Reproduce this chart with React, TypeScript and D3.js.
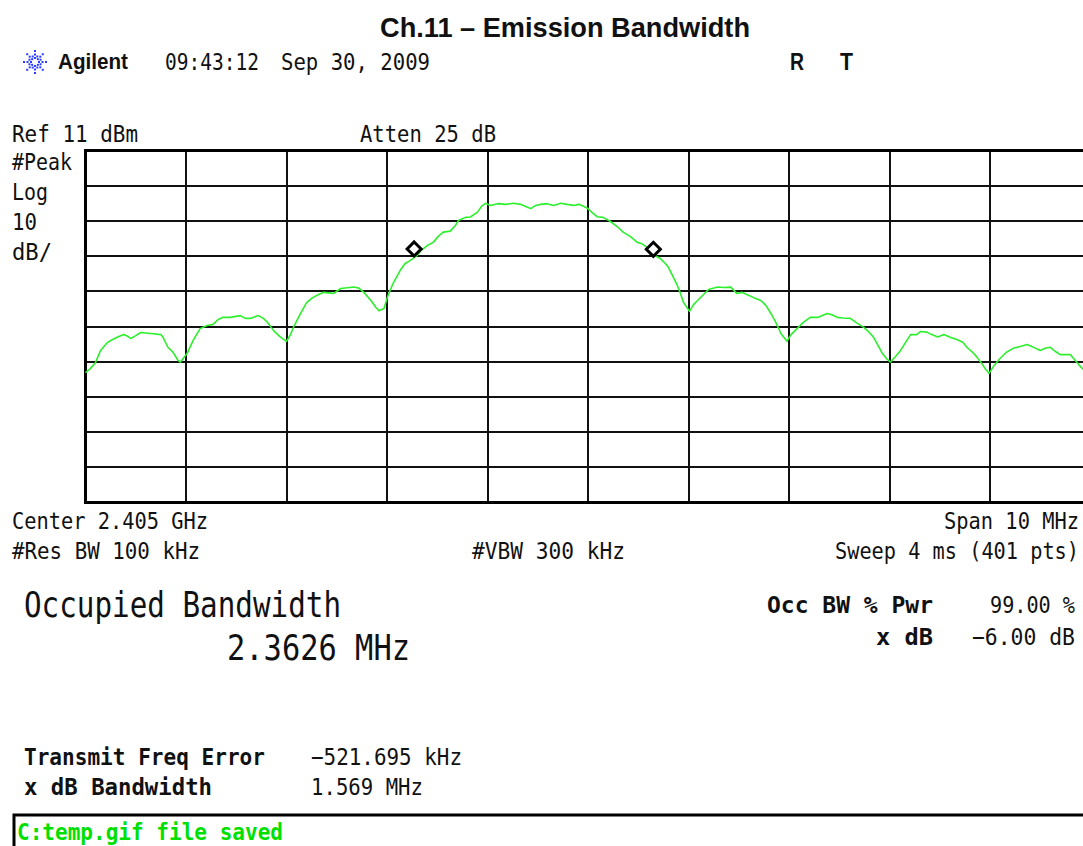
import * as d3 from "d3";
import React from "react";

// Trace: frequency (MHz) and level (dBm)
const freqMHz = [
  2400.0, 2400.05, 2400.1, 2400.15, 2400.22, 2400.27, 2400.32, 2400.38, 2400.42, 2400.45,
  2400.5, 2400.55, 2400.65, 2400.75, 2400.77, 2400.82, 2400.87, 2400.92, 2400.945, 2401.01,
  2401.07, 2401.14, 2401.21, 2401.27, 2401.32, 2401.37, 2401.44, 2401.54, 2401.59, 2401.64,
  2401.72, 2401.77, 2401.81, 2401.87, 2401.94, 2402.0, 2402.04, 2402.07, 2402.14, 2402.2,
  2402.26, 2402.32, 2402.37, 2402.47, 2402.54, 2402.67, 2402.72, 2402.77, 2402.84, 2402.89,
  2402.92, 2402.97, 2403.01, 2403.06, 2403.13, 2403.18, 2403.23, 2403.3, 2403.34, 2403.4,
  2403.46, 2403.51, 2403.56, 2403.63, 2403.68, 2403.71, 2403.78, 2403.83, 2403.9, 2403.94,
  2403.98, 2404.03, 2404.1, 2404.18, 2404.26, 2404.33, 2404.38, 2404.43, 2404.48, 2404.53,
  2404.59, 2404.66, 2404.73, 2404.79, 2404.86, 2404.91, 2404.96, 2405.0, 2405.04, 2405.09,
  2405.15, 2405.22, 2405.29, 2405.35, 2405.42, 2405.49, 2405.53, 2405.59, 2405.65, 2405.72,
  2405.77, 2405.8, 2405.84, 2405.89, 2405.92, 2405.95, 2406.01, 2406.05, 2406.09, 2406.14,
  2406.2, 2406.29, 2406.35, 2406.42, 2406.48, 2406.53, 2406.58, 2406.65, 2406.72, 2406.77,
  2406.82, 2406.87, 2406.92, 2406.98, 2407.02, 2407.08, 2407.14, 2407.21, 2407.29, 2407.38,
  2407.42, 2407.48, 2407.54, 2407.61, 2407.67, 2407.74, 2407.79, 2407.84, 2407.88, 2407.93,
  2407.97, 2408.01, 2408.06, 2408.11, 2408.16, 2408.21, 2408.27, 2408.31, 2408.37, 2408.42,
  2408.48, 2408.54, 2408.61, 2408.67, 2408.73, 2408.77, 2408.83, 2408.87, 2408.91, 2408.95,
  2408.99, 2409.04, 2409.1, 2409.16, 2409.23, 2409.3, 2409.37, 2409.44, 2409.5, 2409.55,
  2409.6, 2409.65, 2409.7, 2409.76, 2409.8, 2409.87, 2409.9, 2409.93, 2410.0,
];

const levelDbm = [
  -52.1, -50.9, -49.2, -45.8, -43.5, -42.7, -42.0, -41.3, -41.8, -42.4,
  -41.6, -40.7, -41.0, -41.3, -42.0, -44.9, -46.3, -48.6, -49.1, -46.7,
  -43.0, -39.6, -38.7, -38.4, -37.0, -36.4, -36.4, -35.9, -36.7, -36.7,
  -35.9, -36.7, -37.8, -40.1, -42.0, -43.2, -41.3, -39.2, -35.3, -32.2,
  -30.8, -29.9, -29.3, -29.6, -28.2, -27.8, -28.1, -29.3, -31.6, -33.6,
  -34.5, -33.9, -30.2, -26.8, -23.1, -21.1, -20.3, -18.8, -17.4, -16.0,
  -15.1, -13.4, -12.2, -11.9, -10.3, -8.9, -8.0, -7.9, -6.5, -4.9,
  -4.0, -4.6, -4.1, -4.3, -4.0, -4.3, -4.9, -5.5, -4.6, -4.3,
  -4.1, -4.6, -4.0, -4.3, -4.6, -4.3, -4.9, -5.5, -6.6, -7.8,
  -8.0, -9.1, -10.6, -12.2, -13.4, -15.1, -15.4, -16.5, -18.6, -19.7,
  -21.1, -22.2, -24.5, -27.4, -29.6, -32.1, -34.7, -32.8, -31.6, -30.2,
  -28.5, -27.8, -27.9, -27.8, -29.6, -29.3, -29.9, -30.8, -31.6, -33.0,
  -35.3, -37.9, -41.0, -43.2, -41.3, -39.6, -37.9, -36.4, -36.4, -35.3,
  -35.6, -36.4, -36.6, -36.7, -37.9, -39.2, -40.4, -42.0, -44.1, -46.7,
  -48.1, -49.1, -47.5, -45.8, -43.5, -41.3, -41.3, -40.4, -40.6, -41.3,
  -42.0, -41.3, -42.1, -42.7, -43.5, -44.9, -46.4, -47.7, -49.2, -50.9,
  -52.3, -50.1, -48.1, -46.4, -45.2, -44.7, -44.1, -45.0, -45.8, -45.2,
  -44.9, -46.1, -47.0, -47.0, -47.0, -49.4, -50.4, -51.2, -51.2,
];

// occupied bandwidth edge markers
const markerFreq = [2403.27, 2405.65];
const markerLevel = [-19.1, -19.2];

const refLevel = 11;
const dbPerDiv = 10;
const centerMHz = 2405;
const spanMHz = 10;

const mono = "'DejaVu Sans Mono', monospace";
const sans = "'Liberation Sans', Arial, sans-serif";

const Txt = ({ x, y, w, children, size = 23, bold = false, family = mono, fill = "#111", anchor = "start" }: any) => (
  <text
    x={x}
    y={y}
    fontSize={size}
    fontFamily={family}
    fontWeight={bold ? "bold" : "normal"}
    fill={fill}
    textAnchor={anchor}
    textLength={w}
    lengthAdjust="spacingAndGlyphs"
  >
    {children}
  </text>
);

const AgilentStar = ({ cx, cy }: { cx: number; cy: number }) => {
  const dots: [number, number][] = [];
  d3.range(8).forEach((i) => {
    const a = (i * Math.PI) / 4;
    [4, 7.5, 11].forEach((r) => dots.push([cx + r * Math.cos(a), cy + r * Math.sin(a)]));
  });
  d3.range(8).forEach((i) => {
    const a = (i * Math.PI) / 4 + Math.PI / 8;
    dots.push([cx + 6 * Math.cos(a), cy + 6 * Math.sin(a)]);
  });
  return (
    <g fill="#2a3cff">
      {dots.map((d, i) => (
        <rect key={i} x={d[0] - 1} y={d[1] - 1} width={2} height={2} />
      ))}
    </g>
  );
};

export default function App() {
  const left = 85.5;
  const top = 150.5;
  const divW = 100.5;
  const divH = 35.2;

  const x = d3
    .scaleLinear()
    .domain([centerMHz - spanMHz / 2, centerMHz + spanMHz / 2])
    .range([left, left + divW * 10]);
  const y = d3
    .scaleLinear()
    .domain([refLevel - dbPerDiv * 10, refLevel])
    .range([top + divH * 10, top]);

  const trace = freqMHz.map((f, i) => [f, levelDbm[i]] as [number, number]);
  const line = d3
    .line<[number, number]>()
    .x((d) => x(d[0]))
    .y((d) => y(d[1]));

  const divs = d3.range(11);

  return (
    <svg
      width={1083}
      height={846}
      style={{ position: "absolute", left: 0, top: 0, background: "#fff" }}
    >
      <rect width={1083} height={846} fill="#fff" />

      <Txt x={380} y={37} w={370} size={27} bold family={sans}>
        Ch.11 – Emission Bandwidth
      </Txt>

      <AgilentStar cx={35} cy={62} />
      <Txt x={58} y={69} w={70} size={22} bold family={sans}>Agilent</Txt>
      <Txt x={165} y={70} w={94} size={23}>09:43:12</Txt>
      <Txt x={281} y={70} w={149} size={23}>Sep 30, 2009</Txt>
      <Txt x={790} y={70} w={14} size={24} bold family={sans}>R</Txt>
      <Txt x={840} y={70} w={13} size={24} bold family={sans}>T</Txt>

      <Txt x={12} y={142} w={126}>Ref 11 dBm</Txt>
      <Txt x={360} y={142} w={136}>Atten 25 dB</Txt>
      <Txt x={12} y={170} w={60}>#Peak</Txt>
      <Txt x={12} y={200} w={36}>Log</Txt>
      <Txt x={12} y={230} w={25}>10</Txt>
      <Txt x={12} y={260} w={40}>dB/</Txt>

      {/* graticule */}
      <g stroke="#111" strokeWidth={2} shapeRendering="crispEdges">
        {divs.slice(1, 10).map((i) => (
          <line key={"v" + i} x1={x(centerMHz - spanMHz / 2 + i)} x2={x(centerMHz - spanMHz / 2 + i)} y1={y(refLevel)} y2={y(refLevel - 100)} />
        ))}
        {divs.slice(1, 10).map((i) => (
          <line key={"h" + i} x1={x(2400)} x2={x(2410)} y1={y(refLevel - dbPerDiv * i)} y2={y(refLevel - dbPerDiv * i)} />
        ))}
      </g>
      <rect
        x={x(2400)}
        y={y(refLevel)}
        width={x(2410) - x(2400)}
        height={y(refLevel - 100) - y(refLevel)}
        fill="none"
        stroke="#000"
        strokeWidth={3}
      />

      <path d={line(trace) || ""} fill="none" stroke="#2cf02c" strokeWidth={1.6} strokeLinejoin="round" />

      {markerFreq.map((f, i) => {
        const mx = x(f);
        const my = y(markerLevel[i]) - 7.5;
        return (
          <path
            key={i}
            d={`M${mx},${my - 7}L${mx + 7},${my}L${mx},${my + 7}L${mx - 7},${my}Z`}
            fill="#fff"
            stroke="#000"
            strokeWidth={3}
          />
        );
      })}

      <Txt x={12} y={529} w={196}>Center 2.405 GHz</Txt>
      <Txt x={1079} y={529} w={135} anchor="end">Span 10 MHz</Txt>
      <Txt x={12} y={559} w={188}>#Res BW 100 kHz</Txt>
      <Txt x={472} y={559} w={153}>#VBW 300 kHz</Txt>
      <Txt x={1079} y={559} w={244} anchor="end">Sweep 4 ms (401 pts)</Txt>

      <Txt x={24} y={617} w={317} size={35}>Occupied Bandwidth</Txt>
      <Txt x={227} y={660} w={183} size={35}>2.3626 MHz</Txt>

      <Txt x={767} y={613} w={166} bold>Occ BW % Pwr</Txt>
      <Txt x={1075} y={613} w={85} anchor="end">99.00 %</Txt>
      <Txt x={876} y={645} w={57} bold>x dB</Txt>
      <Txt x={1075} y={645} w={103} anchor="end">−6.00 dB</Txt>

      <Txt x={24} y={765} w={241} bold>Transmit Freq Error</Txt>
      <Txt x={311} y={765} w={151}>−521.695 kHz</Txt>
      <Txt x={24} y={795} w={188} bold>x dB Bandwidth</Txt>
      <Txt x={311} y={795} w={112}>1.569 MHz</Txt>

      <path d="M14,846V815H1083" fill="none" stroke="#000" strokeWidth={3} />
      <Txt x={17} y={840} w={266} bold fill="#00e000">C:temp.gif file saved</Txt>
    </svg>
  );
}
